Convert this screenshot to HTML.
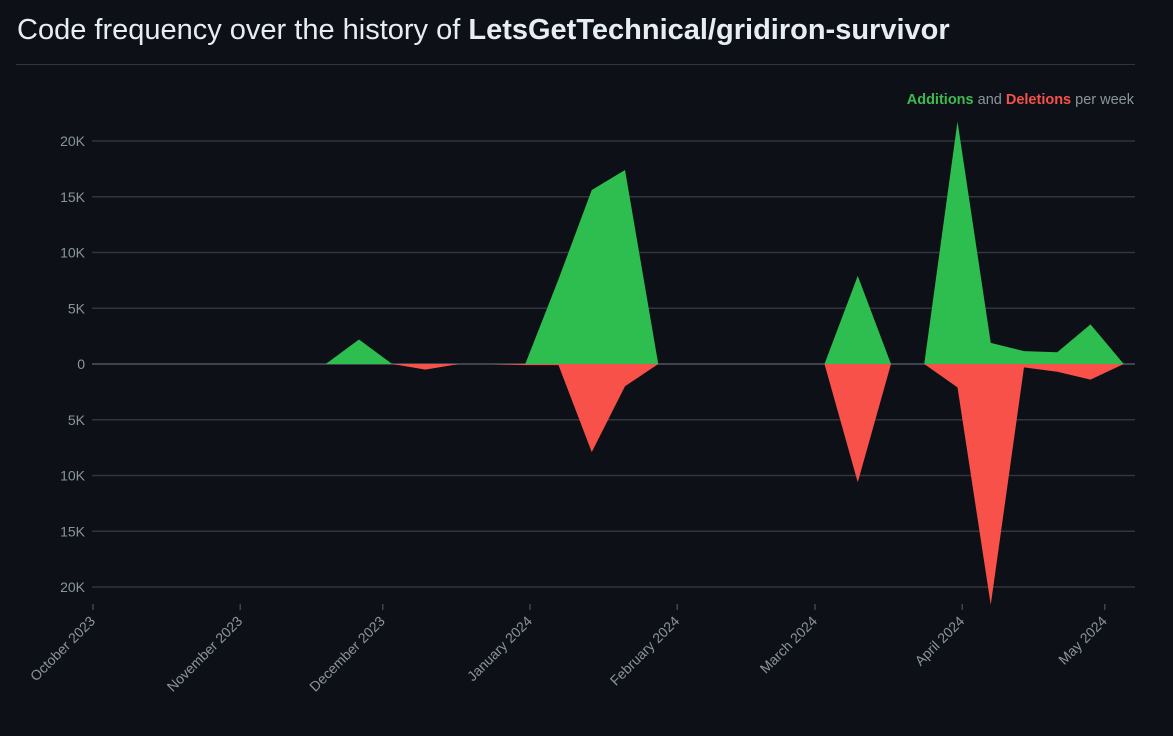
<!DOCTYPE html>
<html><head><meta charset="utf-8"><style>
html,body{margin:0;padding:0;background:#0d1117;width:1173px;height:736px;overflow:hidden;font-family:"Liberation Sans",sans-serif}
#title{position:absolute;left:17px;top:14px;font-size:29px;color:#e6edf3;white-space:nowrap}
#title b{font-weight:bold}
#sep{position:absolute;left:16px;top:64px;width:1119px;height:1px;background:#30363d}
svg{position:absolute;left:0;top:0}
</style></head><body>
<div id="title">Code frequency over the history of <b>LetsGetTechnical/gridiron-survivor</b></div>
<div id="sep"></div>
<svg id="chart" width="1173" height="736">
<text x="1134" y="104" text-anchor="end" font-size="14.5" fill="#8b949e"><tspan font-weight="bold" style="fill:#3fb950">Additions</tspan> and <tspan font-weight="bold" style="fill:#f85149">Deletions</tspan> per week</text>
</svg>
<script>
const weeks=["2023-11-19","2023-11-26","2023-12-03","2023-12-10","2023-12-17","2023-12-24","2023-12-31","2024-01-07","2024-01-14","2024-01-21","2024-01-28","2024-02-04","2024-02-11","2024-02-18","2024-02-25","2024-03-03","2024-03-10","2024-03-17","2024-03-24","2024-03-31","2024-04-07","2024-04-14","2024-04-21","2024-04-28","2024-05-05"];
const additions=[0,2200,0,0,0,0,0,7600,15600,17400,0,0,0,0,0,0,7900,0,0,21750,1900,1150,1050,3550,0];
const deletions=[0,0,0,-500,0,0,-100,-100,-7900,-2000,0,0,0,0,0,0,-10600,0,0,-2100,-21600,-300,-700,-1400,0];
const yTicks=[20000,15000,10000,5000,0,-5000,-10000,-15000,-20000];
const xTicks=["2023-10-01","2023-11-01","2023-12-01","2024-01-01","2024-02-01","2024-03-01","2024-04-01","2024-05-01"];
const xTickLabels=["October 2023","November 2023","December 2023","January 2024","February 2024","March 2024","April 2024","May 2024"];
const NS="http://www.w3.org/2000/svg";
const svg=document.getElementById('chart');
const t0=Date.UTC(2023,9,1);
function X(d){const p=d.split('-');const t=Date.UTC(+p[0],+p[1]-1,+p[2]);return 93+(t-t0)/86400000*4.75;}
function Y(v){return 364-v*(223/20000);}
function mk(tag,a){const e=document.createElementNS(NS,tag);for(const k in a)e.setAttribute(k,a[k]);svg.appendChild(e);return e;}
yTicks.forEach((v,i)=>{
  const l=mk('line',{x1:92,x2:1135,y1:Y(v),y2:Y(v),stroke:v===0?'#3d444d':'#30363d','stroke-width':v===0?2:1.5});
  
  
  const t=mk('text',{x:85,y:Y(v)+5,'text-anchor':'end','font-size':14,fill:'#8b949e'});
  t.textContent=Math.abs(v)===0?'0':(Math.abs(v)/1000)+'K';
  
  
});
function area(vals,color,name){
  let d='M'+X(weeks[0])+','+Y(0);
  vals.forEach((v,i)=>{d+=' L'+X(weeks[i])+','+Y(v);});
  d+=' L'+X(weeks[weeks.length-1])+','+Y(0)+' Z';
  const p=mk('path',{d:d,fill:color});
  
  
}
area(additions,'#2ebd4f','additions-area');
area(deletions,'#f85149','deletions-area');
xTicks.forEach((d,i)=>{
  const x=X(d);
  const tk=mk('line',{x1:x,x2:x,y1:604,y2:610,stroke:'#3d444d','stroke-width':1.5});
  
  
  const t=mk('text',{x:x+3,y:622,'text-anchor':'end','font-size':14,fill:'#8b949e',transform:'rotate(-45 '+(x+3)+' 622)'});
  t.textContent=xTickLabels[i];
  
  
});
</script>
</body></html>
